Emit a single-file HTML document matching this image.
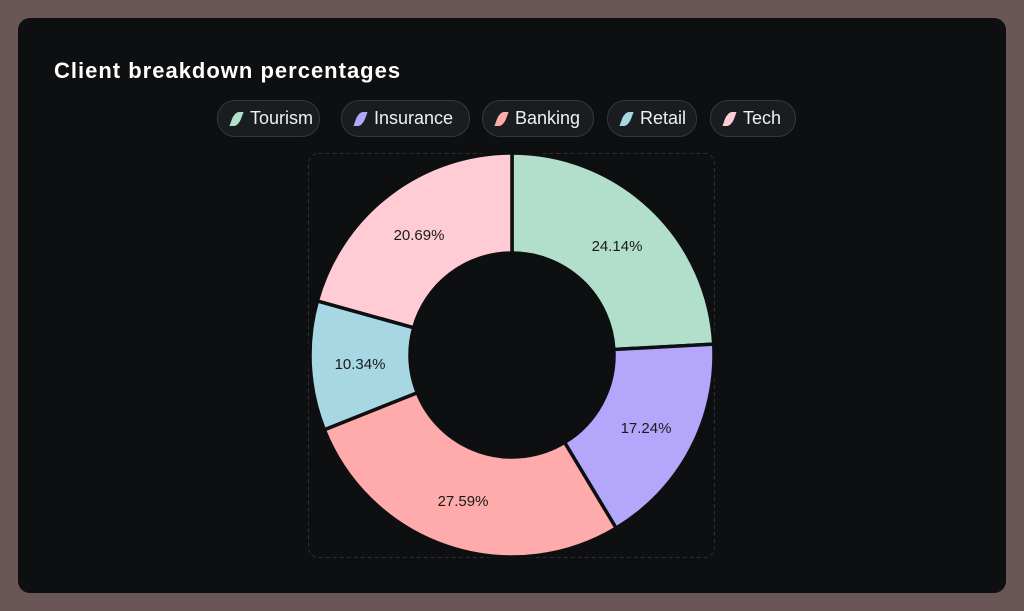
<!DOCTYPE html>
<html><head><meta charset="utf-8"><style>
body{margin:0;width:1024px;height:611px;background:#6b5657;font-family:"Liberation Sans",sans-serif;overflow:hidden}
.card{position:absolute;left:18px;top:18px;width:988px;height:575px;background:#0d0f11;border-radius:12px}
h1{position:absolute;left:54px;top:58px;margin:0;color:#fff;font-size:22px;font-weight:bold;letter-spacing:1px}
.pill{position:absolute;top:100px;height:35px;border:1px solid #34373b;background:#1a1d20;border-radius:18px;color:#f0f0f0;font-size:18px;line-height:35px;box-sizing:content-box;white-space:nowrap}
.pill span{display:inline-block;width:9px;height:14px;border-radius:50% 0 50% 0;transform:skew(-20deg);margin:0 9px 0 14px;vertical-align:-2px}
svg{position:absolute;left:0;top:0}
</style></head><body>
<div class="card"></div>
<h1>Client breakdown percentages</h1>
<div class="pill" style="left:217px;width:101px"><span style="background:#b2dfcb"></span>Tourism</div>
<div class="pill" style="left:341px;width:127px"><span style="background:#b3a6fb"></span>Insurance</div>
<div class="pill" style="left:482px;width:110px"><span style="background:#ffabab"></span>Banking</div>
<div class="pill" style="left:607px;width:88px"><span style="background:#a6d7e3"></span>Retail</div>
<div class="pill" style="left:710px;width:84px"><span style="background:#ffccd5"></span>Tech</div>
<svg width="1024" height="611" id="s">
<rect x="308.5" y="153.5" width="406" height="404" rx="10" fill="none" stroke="#2c2f33" stroke-dasharray="4 3"/>
<g id="g"></g>
<g font-family="Liberation Sans, sans-serif" font-size="15" fill="#1a1a1a" text-anchor="middle">
<text x="617" y="251">24.14%</text>
<text x="646" y="433">17.24%</text>
<text x="463" y="506">27.59%</text>
<text x="360" y="369">10.34%</text>
<text x="419" y="240">20.69%</text>
</g>
</svg>
<script>
var d=[[24.14,"#b2dfcb"],[17.24,"#b3a6fb"],[27.59,"#ffabab"],[10.34,"#a6d7e3"],[20.69,"#ffccd5"]];
var cx=512,cy=355,R=202,r=102,a=0,h="";
function p(rad,t){return (cx+rad*Math.sin(t)).toFixed(2)+","+(cy-rad*Math.cos(t)).toFixed(2);}
d.forEach(function(s){var b=a+s[0]/100*2*Math.PI,l=(b-a)>Math.PI?1:0;
h+='<path d="M'+p(R,a)+' A'+R+','+R+' 0 '+l+' 1 '+p(R,b)+' L'+p(r,b)+' A'+r+','+r+' 0 '+l+' 0 '+p(r,a)+' Z" fill="'+s[1]+'" stroke="#0d0f11" stroke-width="3.5" stroke-linejoin="round"/>';a=b;});
document.getElementById("g").innerHTML=h;
</script>
</body></html>
